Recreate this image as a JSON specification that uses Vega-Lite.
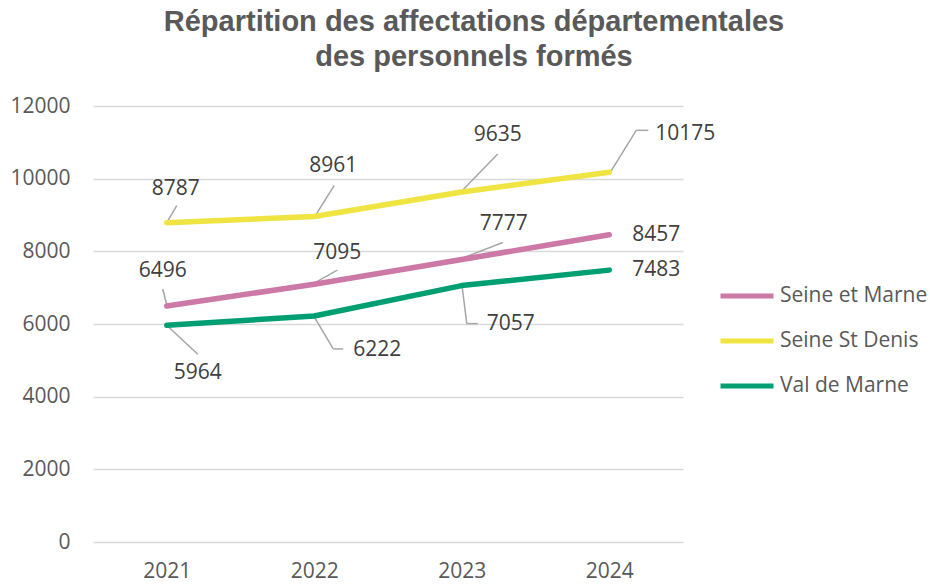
{
  "$schema": "https://vega.github.io/schema/vega-lite/v6.json",
  "autosize": {"type": "none"},
  "width": 590,
  "height": 436,
  "padding": {"left": 93, "top": 106, "right": 247, "bottom": 42},
  "background": "white",
  "title": {
    "text": ["Répartition des affectations départementales", "des personnels formés"],
    "font": "Liberation Sans",
    "fontSize": 29,
    "fontWeight": "bold",
    "color": "#595959",
    "anchor": "middle",
    "frame": "group",
    "dx": 86,
    "offset": 23,
    "lineHeight": 35
  },
  "config": {
    "view": {"stroke": null},
    "font": "Open Sans",
    "axis": {"labelFont": "Open Sans", "labelColor": "#595959", "labelFontSize": 21, "gridColor": "#d9d9d9", "gridWidth": 1.5, "domain": false, "ticks": false, "title": null}
  },
  "data": {
    "values": [
      {"year": "2021", "series": "Seine et Marne", "value": 6496},
      {"year": "2022", "series": "Seine et Marne", "value": 7095},
      {"year": "2023", "series": "Seine et Marne", "value": 7777},
      {"year": "2024", "series": "Seine et Marne", "value": 8457},
      {"year": "2021", "series": "Seine St Denis", "value": 8787},
      {"year": "2022", "series": "Seine St Denis", "value": 8961},
      {"year": "2023", "series": "Seine St Denis", "value": 9635},
      {"year": "2024", "series": "Seine St Denis", "value": 10175},
      {"year": "2021", "series": "Val de Marne", "value": 5964},
      {"year": "2022", "series": "Val de Marne", "value": 6222},
      {"year": "2023", "series": "Val de Marne", "value": 7057},
      {"year": "2024", "series": "Val de Marne", "value": 7483}
    ]
  },
  "encoding": {
    "x": {"field": "year", "type": "ordinal", "scale": {"type": "point", "padding": 0.5}, "axis": {"labelAngle": 0, "labelPadding": 18, "grid": false}},
    "y": {"field": "value", "type": "quantitative", "scale": {"domain": [0, 12000], "nice": false}, "axis": {"values": [0, 2000, 4000, 6000, 8000, 10000, 12000], "format": "d", "labelPadding": 23, "grid": true}}
  },
  "layer": [
    {"transform": [{"filter": "datum.series=='Seine St Denis' && datum.year=='2021'"}], "mark": {"type": "rule", "color": "#a6a6a6", "strokeWidth": 1.5, "x2Offset": 10, "y2Offset": -17}, "encoding": {"x2": {"field": "year"}, "y2": {"field": "value"}}},
    {"transform": [{"filter": "datum.series=='Seine St Denis' && datum.year=='2022'"}], "mark": {"type": "rule", "color": "#a6a6a6", "strokeWidth": 1.5, "yOffset": 1, "x2Offset": 20, "y2Offset": -31}, "encoding": {"x2": {"field": "year"}, "y2": {"field": "value"}}},
    {"transform": [{"filter": "datum.series=='Seine St Denis' && datum.year=='2023'"}], "mark": {"type": "rule", "color": "#a6a6a6", "strokeWidth": 1.5, "yOffset": -1, "x2Offset": 36, "y2Offset": -38}, "encoding": {"x2": {"field": "year"}, "y2": {"field": "value"}}},
    {"transform": [{"filter": "datum.series=='Seine St Denis' && datum.year=='2024'"}], "mark": {"type": "rule", "color": "#a6a6a6", "strokeWidth": 1.5, "xOffset": 1, "x2Offset": 27, "y2Offset": -42}, "encoding": {"x2": {"field": "year"}, "y2": {"field": "value"}}},
    {"transform": [{"filter": "datum.series=='Seine St Denis' && datum.year=='2024'"}], "mark": {"type": "rule", "color": "#a6a6a6", "strokeWidth": 1.5, "xOffset": 27, "yOffset": -42, "x2Offset": 39, "y2Offset": -42}, "encoding": {"x2": {"field": "year"}, "y2": {"field": "value"}}},
    {"transform": [{"filter": "datum.series=='Seine et Marne' && datum.year=='2021'"}], "mark": {"type": "rule", "color": "#a6a6a6", "strokeWidth": 1.5, "yOffset": -1, "x2Offset": -4, "y2Offset": -17}, "encoding": {"x2": {"field": "year"}, "y2": {"field": "value"}}},
    {"transform": [{"filter": "datum.series=='Seine et Marne' && datum.year=='2022'"}], "mark": {"type": "rule", "color": "#a6a6a6", "strokeWidth": 1.5, "yOffset": -1, "x2Offset": 23, "y2Offset": -14}, "encoding": {"x2": {"field": "year"}, "y2": {"field": "value"}}},
    {"transform": [{"filter": "datum.series=='Seine et Marne' && datum.year=='2023'"}], "mark": {"type": "rule", "color": "#a6a6a6", "strokeWidth": 1.5, "yOffset": -1, "x2Offset": 41, "y2Offset": -17}, "encoding": {"x2": {"field": "year"}, "y2": {"field": "value"}}},
    {"transform": [{"filter": "datum.series=='Val de Marne' && datum.year=='2021'"}], "mark": {"type": "rule", "color": "#a6a6a6", "strokeWidth": 1.5, "x2Offset": 31, "y2Offset": 29}, "encoding": {"x2": {"field": "year"}, "y2": {"field": "value"}}},
    {"transform": [{"filter": "datum.series=='Val de Marne' && datum.year=='2022'"}], "mark": {"type": "rule", "color": "#a6a6a6", "strokeWidth": 1.5, "yOffset": 1, "x2Offset": 19, "y2Offset": 33}, "encoding": {"x2": {"field": "year"}, "y2": {"field": "value"}}},
    {"transform": [{"filter": "datum.series=='Val de Marne' && datum.year=='2022'"}], "mark": {"type": "rule", "color": "#a6a6a6", "strokeWidth": 1.5, "xOffset": 19, "yOffset": 33, "x2Offset": 29, "y2Offset": 33}, "encoding": {"x2": {"field": "year"}, "y2": {"field": "value"}}},
    {"transform": [{"filter": "datum.series=='Val de Marne' && datum.year=='2023'"}], "mark": {"type": "rule", "color": "#a6a6a6", "strokeWidth": 1.5, "yOffset": -2, "x2Offset": 5, "y2Offset": 38}, "encoding": {"x2": {"field": "year"}, "y2": {"field": "value"}}},
    {"transform": [{"filter": "datum.series=='Val de Marne' && datum.year=='2023'"}], "mark": {"type": "rule", "color": "#a6a6a6", "strokeWidth": 1.5, "xOffset": 5, "yOffset": 38, "x2Offset": 16, "y2Offset": 38}, "encoding": {"x2": {"field": "year"}, "y2": {"field": "value"}}},
    {
      "mark": {"type": "line", "strokeWidth": 5.5, "strokeCap": "round", "strokeJoin": "round"},
      "encoding": {
        "color": {
          "field": "series", "type": "nominal",
          "scale": {"domain": ["Seine et Marne", "Seine St Denis", "Val de Marne"], "range": ["#cc79a7", "#f0e442", "#009e73"]},
          "legend": {"title": null, "orient": "none", "legendX": 625, "legendY": 161, "symbolType": "stroke", "symbolSize": 2809, "symbolStrokeWidth": 5, "labelFont": "Open Sans", "labelFontSize": 21, "labelColor": "#595959", "labelOffset": 4, "rowPadding": 6, "labelLimit": 300}
        }
      }
    },
    {"transform": [{"filter": "datum.series=='Seine St Denis' && datum.year=='2021'"}], "mark": {"type": "text", "fontSize": 21, "color": "#404040", "baseline": "middle", "dx": 9, "dy": -34}, "encoding": {"text": {"field": "value"}}},
    {"transform": [{"filter": "datum.series=='Seine St Denis' && datum.year=='2022'"}], "mark": {"type": "text", "fontSize": 21, "color": "#404040", "baseline": "middle", "dx": 19, "dy": -50}, "encoding": {"text": {"field": "value"}}},
    {"transform": [{"filter": "datum.series=='Seine St Denis' && datum.year=='2023'"}], "mark": {"type": "text", "fontSize": 21, "color": "#404040", "baseline": "middle", "dx": 36, "dy": -57}, "encoding": {"text": {"field": "value"}}},
    {"transform": [{"filter": "datum.series=='Seine St Denis' && datum.year=='2024'"}], "mark": {"type": "text", "fontSize": 21, "color": "#404040", "baseline": "middle", "dx": 76, "dy": -38}, "encoding": {"text": {"field": "value"}}},
    {"transform": [{"filter": "datum.series=='Seine et Marne' && datum.year=='2021'"}], "mark": {"type": "text", "fontSize": 21, "color": "#404040", "baseline": "middle", "dx": -4, "dy": -35}, "encoding": {"text": {"field": "value"}}},
    {"transform": [{"filter": "datum.series=='Seine et Marne' && datum.year=='2022'"}], "mark": {"type": "text", "fontSize": 21, "color": "#404040", "baseline": "middle", "dx": 23, "dy": -31}, "encoding": {"text": {"field": "value"}}},
    {"transform": [{"filter": "datum.series=='Seine et Marne' && datum.year=='2023'"}], "mark": {"type": "text", "fontSize": 21, "color": "#404040", "baseline": "middle", "dx": 42, "dy": -35}, "encoding": {"text": {"field": "value"}}},
    {"transform": [{"filter": "datum.series=='Seine et Marne' && datum.year=='2024'"}], "mark": {"type": "text", "fontSize": 21, "color": "#404040", "baseline": "middle", "dx": 47, "dy": 0}, "encoding": {"text": {"field": "value"}}},
    {"transform": [{"filter": "datum.series=='Val de Marne' && datum.year=='2021'"}], "mark": {"type": "text", "fontSize": 21, "color": "#404040", "baseline": "middle", "dx": 31, "dy": 48}, "encoding": {"text": {"field": "value"}}},
    {"transform": [{"filter": "datum.series=='Val de Marne' && datum.year=='2022'"}], "mark": {"type": "text", "fontSize": 21, "color": "#404040", "baseline": "middle", "dx": 63, "dy": 34}, "encoding": {"text": {"field": "value"}}},
    {"transform": [{"filter": "datum.series=='Val de Marne' && datum.year=='2023'"}], "mark": {"type": "text", "fontSize": 21, "color": "#404040", "baseline": "middle", "dx": 49, "dy": 38}, "encoding": {"text": {"field": "value"}}},
    {"transform": [{"filter": "datum.series=='Val de Marne' && datum.year=='2024'"}], "mark": {"type": "text", "fontSize": 21, "color": "#404040", "baseline": "middle", "dx": 47, "dy": 0}, "encoding": {"text": {"field": "value"}}}
  ]
}
